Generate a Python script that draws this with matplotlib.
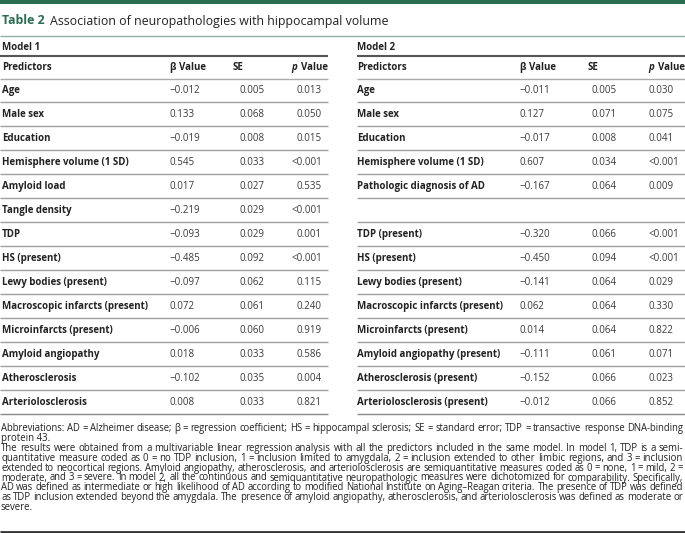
import matplotlib
matplotlib.use("Agg")
import matplotlib.pyplot as plt

# ---------------- data ----------------
title_label = "Table 2"
title_text = "Association of neuropathologies with hippocampal volume"

model1_name = "Model 1"
model2_name = "Model 2"
header_cols = ["Predictors", "β Value", "SE", "p Value"]

pred1 = ["Age", "Male sex", "Education", "Hemisphere volume (1 SD)", "Amyloid load",
         "Tangle density", "TDP", "HS (present)", "Lewy bodies (present)",
         "Macroscopic infarcts (present)", "Microinfarcts (present)", "Amyloid angiopathy",
         "Atherosclerosis", "Arteriolosclerosis"]
beta1 = ["−0.012", "0.133", "−0.019", "0.545", "0.017", "−0.219", "−0.093", "−0.485",
         "−0.097", "0.072", "−0.006", "0.018", "−0.102", "0.008"]
se1 = ["0.005", "0.068", "0.008", "0.033", "0.027", "0.029", "0.029", "0.092",
       "0.062", "0.061", "0.060", "0.033", "0.035", "0.033"]
p1 = ["0.013", "0.050", "0.015", "<0.001", "0.535", "<0.001", "0.001", "<0.001",
      "0.115", "0.240", "0.919", "0.586", "0.004", "0.821"]

pred2 = ["Age", "Male sex", "Education", "Hemisphere volume (1 SD)", "Pathologic diagnosis of AD",
         "", "TDP (present)", "HS (present)", "Lewy bodies (present)",
         "Macroscopic infarcts (present)", "Microinfarcts (present)", "Amyloid angiopathy (present)",
         "Atherosclerosis (present)", "Arteriolosclerosis (present)"]
beta2 = ["−0.011", "0.127", "−0.017", "0.607", "−0.167", "", "−0.320", "−0.450",
         "−0.141", "0.062", "0.014", "−0.111", "−0.152", "−0.012"]
se2 = ["0.005", "0.071", "0.008", "0.034", "0.064", "", "0.066", "0.094",
       "0.064", "0.064", "0.064", "0.061", "0.066", "0.066"]
p2 = ["0.030", "0.075", "0.041", "<0.001", "0.009", "", "<0.001", "<0.001",
      "0.029", "0.330", "0.822", "0.071", "0.023", "0.852"]

footnotes = [
    "Abbreviations: AD = Alzheimer disease; β = regression coefficient; HS = hippocampal sclerosis; SE = standard error; TDP = transactive response DNA-binding",
    "protein 43.",
    "The results were obtained from a multivariable linear regression analysis with all the predictors included in the same model. In model 1, TDP is a semi-",
    "quantitative measure coded as 0 = no TDP inclusion, 1 = inclusion limited to amygdala, 2 = inclusion extended to other limbic regions, and 3 = inclusion",
    "extended to neocortical regions. Amyloid angiopathy, atherosclerosis, and arteriolosclerosis are semiquantitative measures coded as 0 = none, 1 = mild, 2 =",
    "moderate, and 3 = severe. In model 2, all the continuous and semiquantitative neuropathologic measures were dichotomized for comparability. Specifically,",
    "AD was defined as intermediate or high likelihood of AD according to modified National Institute on Aging–Reagan criteria. The presence of TDP was defined",
    "as TDP inclusion extended beyond the amygdala. The presence of amyloid angiopathy, atherosclerosis, and arteriolosclerosis was defined as moderate or",
    "severe.",
]
justify = [True, False, True, True, True, True, True, True, False]

# ---------------- layout ----------------
W, H = 685, 533
DPI = 100
FONT = ["Open Sans", "DejaVu Sans"]
GREEN = "#2a6e4f"
TXT = "#222222"
NUM = "#3a3a3a"

fig = plt.figure(figsize=(W / DPI, H / DPI), dpi=DPI)
ax = fig.add_axes([0, 0, 1, 1])
ax.set_xlim(0, W)
ax.set_ylim(H, 0)
ax.axis("off")
renderer = fig.canvas.get_renderer()

def width_px(t):
    return t.get_window_extent(renderer).width

# top bar
ax.fill_between([0, W], 0, 3.5, color=GREEN, lw=0)

# title
t1 = ax.text(2, 24.5, title_label, fontsize=8.9, fontweight="bold", color=GREEN,
             family=FONT, va="baseline", ha="left")
wt = width_px(t1)
ax.text(2 + wt + 5, 24.5, title_text, fontsize=8.9, color=TXT, family=FONT,
        va="baseline", ha="left")
ax.plot([0, W], [35.5, 35.5], color="#8fb0a0", lw=1.0, solid_capstyle="butt")

row_fs = 7.0
row_y0 = 90
row_dy = 24
BL = 3.0  # baseline offset from row centre

panels = [
    dict(x0=0, x1=328, name=model1_name, pred=pred1, beta=beta1, se=se1, p=p1,
         xp=2, xb=170, xs=240, xse_h=233, xpv=322, xpv_h=328, p_align="right"),
    dict(x0=357, x1=W, name=model2_name, pred=pred2, beta=beta2, se=se2, p=p2,
         xp=357, xb=520, xs=592, xse_h=588, xpv=649, xpv_h=685, p_align="left"),
]

for P in panels:
    ax.text(P["xp"], 46.5 + BL, P["name"], fontsize=row_fs, fontweight="bold", color=TXT,
            family=FONT, va="baseline", ha="left")
    ax.plot([P["x0"], P["x1"]], [56, 56], color="#555555", lw=1.5, solid_capstyle="butt")
    hy = 67 + BL
    ax.text(P["xp"], hy, header_cols[0], fontsize=row_fs, fontweight="bold", color=TXT,
            family=FONT, va="baseline", ha="left")
    ax.text(P["xb"], hy, header_cols[1], fontsize=row_fs, fontweight="bold", color=TXT,
            family=FONT, va="baseline", ha="left")
    ax.text(P["xse_h"], hy, header_cols[2], fontsize=row_fs, fontweight="bold", color=TXT,
            family=FONT, va="baseline", ha="left")
    pword, rest = header_cols[3].split(" ", 1)
    tv = ax.text(P["xpv_h"], hy, rest, fontsize=row_fs, fontweight="bold", color=TXT,
                 family=FONT, va="baseline", ha="right")
    wv = width_px(tv)
    ax.text(P["xpv_h"] - wv - 4, hy, pword, fontsize=row_fs, fontweight="bold", style="italic",
            color=TXT, family=FONT, va="baseline", ha="right")
    ax.plot([P["x0"], P["x1"]], [79, 79], color="#aaaaaa", lw=1.0, solid_capstyle="butt")

    for i in range(len(P["pred"])):
        y = row_y0 + i * row_dy
        yb = y + BL
        ax.text(P["xp"], yb, P["pred"][i], fontsize=row_fs, fontweight="bold", color=TXT,
                family=FONT, va="baseline", ha="left")
        ax.text(P["xb"], yb, P["beta"][i], fontsize=row_fs, color=NUM,
                family=FONT, va="baseline", ha="left")
        ax.text(P["xs"], yb, P["se"][i], fontsize=row_fs, color=NUM,
                family=FONT, va="baseline", ha="left")
        ax.text(P["xpv"], yb, P["p"][i], fontsize=row_fs, color=NUM,
                family=FONT, va="baseline", ha=P["p_align"])
        ly = y + 12
        last = i == len(P["pred"]) - 1
        ax.plot([P["x0"], P["x1"]], [ly, ly], color="#888888" if last else "#a0a0a0",
                lw=1.0, solid_capstyle="butt")

# footnotes
fn_fs = 6.9
fn_y0 = 431.0
fn_dy = 9.9
for k, line in enumerate(footnotes):
    y = fn_y0 + k * fn_dy
    if not justify[k]:
        ax.text(1, y, line, fontsize=fn_fs, color=TXT, family=FONT, va="baseline", ha="left")
        continue
    words = line.split(" ")
    ts = [ax.text(0, y, w, fontsize=fn_fs, color=TXT, family=FONT, va="baseline", ha="left")
          for w in words]
    ws = [width_px(t) for t in ts]
    total = sum(ws)
    avail = 683 - 1
    gap = (avail - total) / max(1, len(words) - 1)
    if gap < 1.8:
        scale = (avail - (len(words) - 1) * 1.8) / total
        for t in ts:
            t.set_fontsize(fn_fs * scale)
        ws = [width_px(t) for t in ts]
        gap = (avail - sum(ws)) / max(1, len(words) - 1)
    x = 1
    for t, w in zip(ts, ws):
        t.set_x(x)
        x += w + gap

ax.plot([0, W], [531.5, 531.5], color="#333333", lw=2.0, solid_capstyle="butt")

fig.savefig("out.png", dpi=DPI)
